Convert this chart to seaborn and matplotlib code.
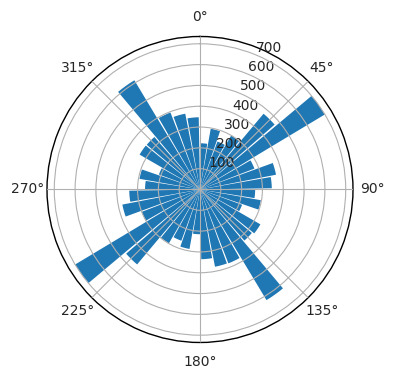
import numpy as np
import matplotlib
matplotlib.use("Agg")
import matplotlib.pyplot as plt
import seaborn as sns

# Direction bins (degrees, left edge of each bar) and counts
directions = [0, 10, 20, 30, 40, 50, 60, 70, 80,
              90, 100, 110, 120, 130, 140, 150, 160, 170,
              180, 190, 200, 210, 220, 230, 240, 250, 260,
              270, 280, 290, 300, 310, 320, 330, 340, 350]
counts = [222, 296, 245, 300, 475, 700, 280, 372, 345,
          265, 297, 215, 335, 325, 620, 380, 378, 335,
          215, 290, 262, 298, 470, 700, 300, 380, 340,
          264, 295, 210, 335, 334, 612, 396, 371, 347]
theta_ticks = [0, 45, 90, 135, 180, 225, 270, 315]
r_ticks = [100, 200, 300, 400, 500, 600, 700]

sns.set_style("white")
plt.rcParams["font.family"] = ["DejaVu Sans"]
color = sns.color_palette("tab10")[0]

fig = plt.figure(figsize=(3.96, 3.80), dpi=100)
ax = fig.add_axes([0.1187, 0.0987, 0.7727, 0.8053], projection="polar")
ax.set_theta_zero_location("N")
ax.set_theta_direction(-1)

theta = np.deg2rad(directions)
width = np.deg2rad(9)
ax.bar(theta, counts, width=width, align="edge", color=color, edgecolor="none")

ax.set_xticks(np.deg2rad(theta_ticks))
ax.set_xticklabels([f"{t}°" for t in theta_ticks], fontsize=10)
ax.set_yticks(r_ticks)
ax.set_yticklabels([str(r) for r in r_ticks], fontsize=10)
ax.set_ylim(0, max(counts) * 1.05)
ax.set_rlabel_position(22.5)
ax.grid(True, color="#b0b0b0", linewidth=0.8)
ax.set_axisbelow(False)
for sp in ax.spines.values():
    sp.set_color("black")
    sp.set_linewidth(1.0)

fig.savefig("out.png", dpi=100)
